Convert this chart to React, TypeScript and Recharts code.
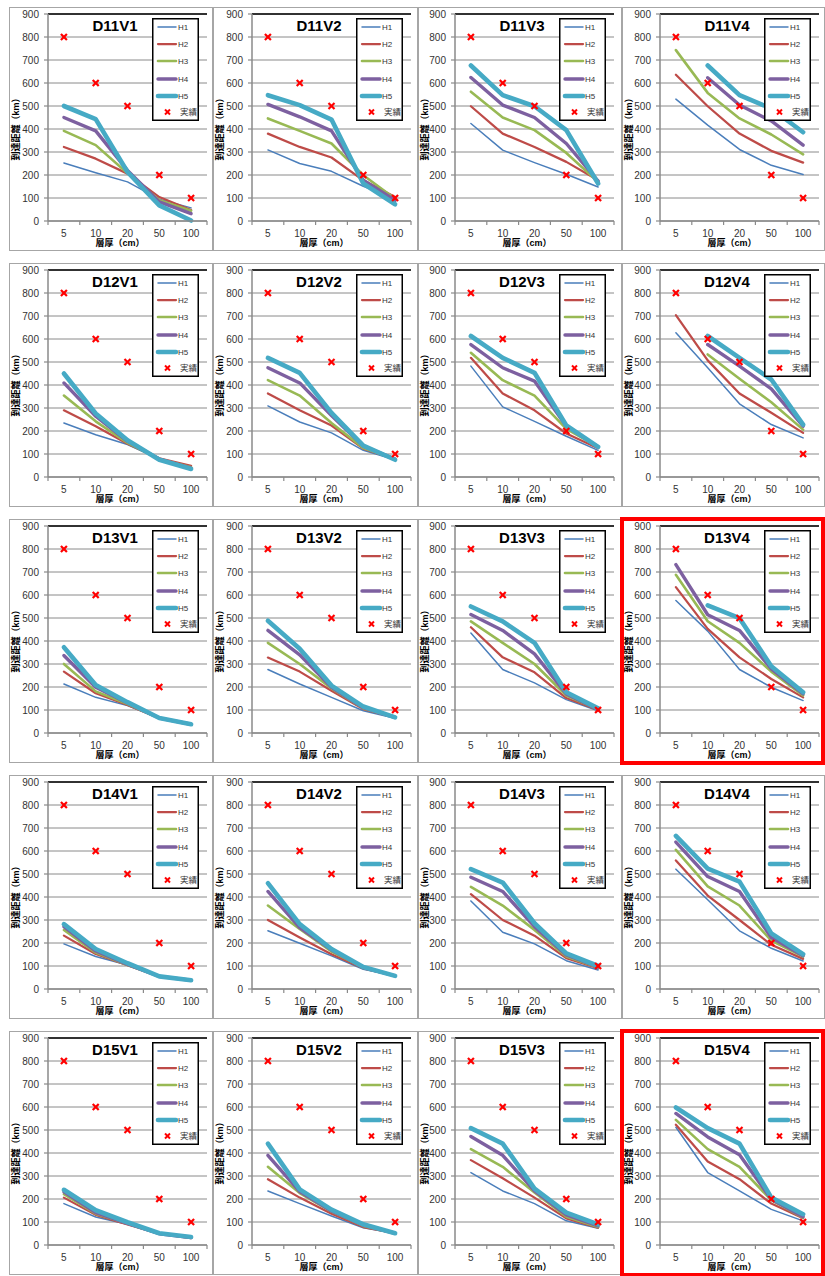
import React from 'react';
import { LineChart, Line, XAxis, YAxis, CartesianGrid, ReferenceLine, Legend, Label } from 'recharts';

// ---------- data ----------
const categories = ['5', '10', '20', '50', '100'];
const seriesNames = ['H1', 'H2', 'H3', 'H4', 'H5'];
const actualName = '実績';
const actual = [800, 600, 500, 200, 100];
const yTicks = [0, 100, 200, 300, 400, 500, 600, 700, 800, 900];
const xTitle = '層厚（cm）';
const yTitle = '到達距離（km）';

type Row = (number | null)[];

const d11v1: Row[] = [
  [252, 210, 170, 95, 57],
  [322, 271, 206, 104, 48],
  [392, 330, 208, 90, 45],
  [450, 392, 220, 83, 32],
  [500, 443, 213, 68, 2],
];
const d11v2: Row[] = [
  [309, 250, 216, 151, 97],
  [380, 322, 276, 177, 104],
  [446, 392, 337, 199, 97],
  [507, 453, 392, 177, 90],
  [547, 504, 441, 163, 73],
];
const d11v3: Row[] = [
  [424, 308, 254, 203, 148],
  [499, 380, 322, 257, 177],
  [562, 450, 395, 296, 170],
  [624, 504, 450, 337, 173],
  [676, 547, 499, 395, 163],
];
const d11v4: Row[] = [
  [530, 417, 311, 242, 202],
  [636, 499, 380, 305, 254],
  [743, 557, 446, 376, 290],
  [null, 623, 504, 435, 330],
  [null, 676, 547, 489, 386],
];
const d12v1: Row[] = [
  [235, 184, 141, 78, 46],
  [290, 221, 145, 81, 49],
  [354, 242, 148, 78, 42],
  [409, 264, 155, 78, 39],
  [450, 276, 160, 75, 35],
];
const d12v2: Row[] = [
  [309, 239, 192, 116, 75],
  [363, 290, 224, 123, 78],
  [421, 354, 235, 126, 78],
  [475, 409, 267, 134, 78],
  [518, 453, 279, 136, 75],
];
const d12v3: Row[] = [
  [482, 305, 242, 177, 116],
  [518, 363, 290, 189, 125],
  [540, 421, 354, 209, 131],
  [576, 475, 417, 221, 131],
  [613, 518, 453, 224, 131],
];
const d12v4: Row[] = [
  [627, 475, 318, 228, 170],
  [704, 507, 363, 279, 192],
  [null, 533, 427, 325, 206],
  [null, 576, 482, 383, 221],
  [null, 613, 518, 424, 228],
];
const d13v1: Row[] = [
  [213, 155, 119, 64, 38],
  [267, 173, 122, 64, 38],
  [300, 181, 126, 65, 38],
  [337, 199, 131, 65, 38],
  [373, 209, 134, 65, 38],
];
const d13v2: Row[] = [
  [276, 213, 155, 97, 64],
  [328, 267, 184, 104, 68],
  [392, 300, 194, 107, 68],
  [446, 340, 199, 110, 68],
  [488, 366, 206, 115, 68],
];
const d13v3: Row[] = [
  [435, 276, 218, 145, 97],
  [460, 329, 264, 152, 100],
  [485, 392, 300, 163, 102],
  [515, 446, 344, 170, 102],
  [550, 485, 392, 177, 107],
];
const d13v4: Row[] = [
  [576, 443, 276, 199, 141],
  [634, 453, 329, 235, 155],
  [688, 486, 392, 267, 163],
  [732, 514, 446, 279, 170],
  [null, 555, 499, 290, 177],
];
const d14v1: Row[] = [
  [196, 141, 104, 55, 38],
  [232, 152, 104, 55, 38],
  [257, 158, 104, 55, 38],
  [271, 165, 107, 55, 38],
  [282, 174, 112, 55, 38],
];
const d14v2: Row[] = [
  [253, 199, 144, 86, 57],
  [300, 224, 151, 90, 57],
  [363, 261, 163, 93, 57],
  [424, 267, 170, 94, 57],
  [460, 282, 174, 96, 57],
];
const d14v3: Row[] = [
  [383, 247, 196, 123, 83],
  [412, 300, 232, 134, 90],
  [444, 363, 257, 141, 93],
  [486, 424, 271, 148, 96],
  [521, 463, 286, 155, 100],
];
const d14v4: Row[] = [
  [521, 388, 253, 177, 122],
  [559, 406, 300, 192, 131],
  [605, 446, 363, 210, 141],
  [639, 489, 424, 224, 145],
  [666, 523, 467, 242, 151],
];
const d15v1: Row[] = [
  [180, 122, 90, 49, 32],
  [206, 131, 90, 49, 30],
  [221, 136, 93, 49, 32],
  [231, 141, 94, 49, 32],
  [240, 151, 99, 51, 35],
];
const d15v2: Row[] = [
  [235, 180, 126, 75, 51],
  [286, 206, 136, 78, 51],
  [340, 226, 145, 83, 51],
  [390, 232, 148, 86, 51],
  [441, 242, 154, 90, 51],
];
const d15v3: Row[] = [
  [315, 235, 180, 105, 73],
  [369, 290, 206, 116, 75],
  [417, 340, 228, 123, 78],
  [472, 390, 235, 131, 83],
  [508, 441, 245, 141, 90],
];
const d15v4: Row[] = [
  [512, 315, 235, 155, 105],
  [523, 363, 286, 180, 116],
  [544, 417, 340, 195, 119],
  [572, 470, 392, 199, 123],
  [598, 508, 441, 206, 134],
];

const panelTitles = [
  ['D11V1', 'D11V2', 'D11V3', 'D11V4'],
  ['D12V1', 'D12V2', 'D12V3', 'D12V4'],
  ['D13V1', 'D13V2', 'D13V3', 'D13V4'],
  ['D14V1', 'D14V2', 'D14V3', 'D14V4'],
  ['D15V1', 'D15V2', 'D15V3', 'D15V4'],
];
const panelValues = [
  [d11v1, d11v2, d11v3, d11v4],
  [d12v1, d12v2, d12v3, d12v4],
  [d13v1, d13v2, d13v3, d13v4],
  [d14v1, d14v2, d14v3, d14v4],
  [d15v1, d15v2, d15v3, d15v4],
];
const highlighted = ['D13V4', 'D15V4'];

// ---------- styles ----------
const FONT = '"Liberation Sans", Arial, "Noto Sans CJK JP", sans-serif';
const seriesColors = ['#4a7ebb', '#be4b48', '#98b954', '#7d60a0', '#46aac5'];
const seriesWidths = [1.5, 2.25, 2.6, 3.4, 4.6];
const GRID = '#8a8a8a';
const AXIS = '#8a8a8a';
const TEXT = '#333333';

const boxLeft = [9, 213, 418, 622];
const boxWidth = [204, 205, 204, 203];
const plotLeft = [48, 252, 455, 660];
const PLOT_W = 159;
const PLOT_H = 207;
const BOX_H = 244;
const TOP_M = 7;
const XAXIS_H = 30;
const ROW_PITCH = 256;
const FIRST_TOP = 7;
const STEP = PLOT_W / categories.length;

const XMark = (props: any) => {
  const { cx, cy, value } = props;
  if (value == null || cx == null || cy == null) return <g />;
  const s = 3;
  return (
    <g>
      <line x1={cx - s} y1={cy - s} x2={cx + s} y2={cy + s} stroke="#ff0000" strokeWidth={2.2} />
      <line x1={cx - s} y1={cy + s} x2={cx + s} y2={cy - s} stroke="#ff0000" strokeWidth={2.2} />
    </g>
  );
};

const XTick = (props: any) => {
  const { x, y, payload, index } = props;
  const last = index === categories.length - 1;
  return (
    <g>
      <line x1={x - STEP / 2} y1={y} x2={x - STEP / 2} y2={y + 4} stroke={AXIS} strokeWidth={1.2} />
      {last && <line x1={x + STEP / 2} y1={y} x2={x + STEP / 2} y2={y + 4} stroke={AXIS} strokeWidth={1.2} />}
      <text x={x} y={y + 15.5} textAnchor="middle" fontSize={10} fill={TEXT} fontFamily={FONT}>
        {payload.value}
      </text>
    </g>
  );
};

const LegendBox = () => {
  const rows = [...seriesNames, actualName];
  const rowY = [9, 26, 43, 61, 78, 94];
  return (
    <svg width={47} height={103} style={{ display: 'block' }}>
      <rect x={0.75} y={0.75} width={45.5} height={101.5} fill="#ffffff" stroke="#000000" strokeWidth={1.5} />
      {rows.map((name, i) => (
        <g key={name}>
          {i < seriesNames.length ? (
            <line x1={6} y1={rowY[i]} x2={24} y2={rowY[i]} stroke={seriesColors[i]} strokeWidth={seriesWidths[i]} strokeLinecap="round" />
          ) : (
            <g>
              <line x1={13} y1={rowY[i] - 2.5} x2={18} y2={rowY[i] + 2.5} stroke="#ff0000" strokeWidth={2} />
              <line x1={13} y1={rowY[i] + 2.5} x2={18} y2={rowY[i] - 2.5} stroke="#ff0000" strokeWidth={2} />
            </g>
          )}
          <text x={i < seriesNames.length ? 26 : 28} y={rowY[i]} dominantBaseline="central" fontSize={i < seriesNames.length ? 8 : 8.5} fill={TEXT} fontFamily={FONT}>
            {name}
          </text>
        </g>
      ))}
    </svg>
  );
};

const Panel = ({ r, c }: { r: number; c: number }) => {
  const title = panelTitles[r][c];
  const values = panelValues[r][c];
  const data = categories.map((cat, i) => {
    const row: any = { cat };
    seriesNames.forEach((s, k) => {
      row[s] = values[k][i];
    });
    row[actualName] = actual[i];
    return row;
  });
  const left = boxLeft[c];
  const top = FIRST_TOP + r * ROW_PITCH;
  const width = boxWidth[c];
  const yW = plotLeft[c] - left;
  const rightM = width - yW - PLOT_W;
  return (
    <div style={{ position: 'absolute', left, top, width, height: BOX_H }}>
      <div
        style={{
          position: 'absolute',
          left: 0,
          top: 0,
          width,
          height: BOX_H,
          boxSizing: 'border-box',
          border: '1px solid #a6a6a6',
        }}
      />
      <div style={{ position: 'absolute', left: 0, top: 0 }}>
        <LineChart width={width} height={BOX_H} data={data} margin={{ top: TOP_M, right: rightM, left: 0, bottom: 0 }}>
          <CartesianGrid horizontal vertical={false} stroke={GRID} strokeWidth={1} />
          <XAxis
            dataKey="cat"
            interval={0}
            height={XAXIS_H}
            padding={{ left: STEP / 2, right: STEP / 2 }}
            tickLine={false}
            tickSize={0}
            tickMargin={0}
            axisLine={{ stroke: AXIS, strokeWidth: 1.5 }}
            tick={<XTick />}
          >
            <Label
              content={() => (
                <text
                  x={yW + 72}
                  y={TOP_M + PLOT_H + 22}
                  textAnchor="middle"
                  dominantBaseline="central"
                  fontSize={9}
                  fontWeight="bold"
                  fill="#000"
                  fontFamily={FONT}
                >
                  {xTitle}
                </text>
              )}
            />
          </XAxis>
          <YAxis
            width={yW}
            domain={[0, 900]}
            ticks={yTicks}
            interval={0}
            tickSize={4}
            tickMargin={5}
            axisLine={{ stroke: AXIS, strokeWidth: 1.5 }}
            tickLine={{ stroke: AXIS, strokeWidth: 1.2 }}
            tick={{ fontSize: 10, fill: TEXT, fontFamily: FONT }}
          >
            <Label
              content={() => (
                <text
                  x={7}
                  y={TOP_M + 113}
                  transform={`rotate(-90 7 ${TOP_M + 113})`}
                  textAnchor="middle"
                  dominantBaseline="central"
                  fontSize={9}
                  fontWeight="bold"
                  fill="#000"
                  fontFamily={FONT}
                >
                  {yTitle}
                </text>
              )}
            />
          </YAxis>
          <YAxis
            yAxisId="border"
            orientation="right"
            width={0}
            domain={[0, 900]}
            tick={false}
            tickLine={false}
            axisLine={{ stroke: '#000', strokeWidth: 1.5 }}
          />
          <ReferenceLine y={900} stroke="#000" strokeWidth={1.5} />
          {seriesNames.map((s, k) => (
            <Line
              key={s}
              type="linear"
              dataKey={s}
              stroke={seriesColors[k]}
              strokeWidth={seriesWidths[k]}
              strokeLinejoin="round"
              strokeLinecap="round"
              dot={false}
              activeDot={false}
              isAnimationActive={false}
            />
          ))}
          <Line
            type="linear"
            dataKey={actualName}
            stroke="none"
            strokeWidth={0}
            dot={(p: any) => <XMark key={`xm-${p.index}`} {...p} />}
            activeDot={false}
            isAnimationActive={false}
          />
          <Legend
            layout="vertical"
            align="center"
            verticalAlign="middle"
            wrapperStyle={{ position: 'absolute', left: yW + 104, top: TOP_M + 4, width: 47, height: 103 }}
            content={() => <LegendBox />}
          />
        </LineChart>
      </div>
      <div
        style={{
          position: 'absolute',
          left: yW + 67 - 40,
          top: TOP_M + 3,
          width: 80,
          textAlign: 'center',
          fontFamily: FONT,
          fontWeight: 'bold',
          fontSize: 15,
          lineHeight: '18px',
          color: '#000',
          pointerEvents: 'none',
        }}
      >
        {title}
      </div>
      {highlighted.includes(title) && (
        <div
          style={{
            position: 'absolute',
            left: -2,
            top: -2,
            width: width + 2,
            height: BOX_H + 4,
            boxSizing: 'border-box',
            border: '4px solid #ff0000',
          }}
        />
      )}
    </div>
  );
};

export default function App() {
  return (
    <div style={{ position: 'absolute', left: 0, top: 0, width: 825, height: 1276, background: '#fff', overflow: 'hidden' }}>
      {panelTitles.map((row, r) => row.map((_, c) => <Panel key={`${r}-${c}`} r={r} c={c} />))}
    </div>
  );
}
